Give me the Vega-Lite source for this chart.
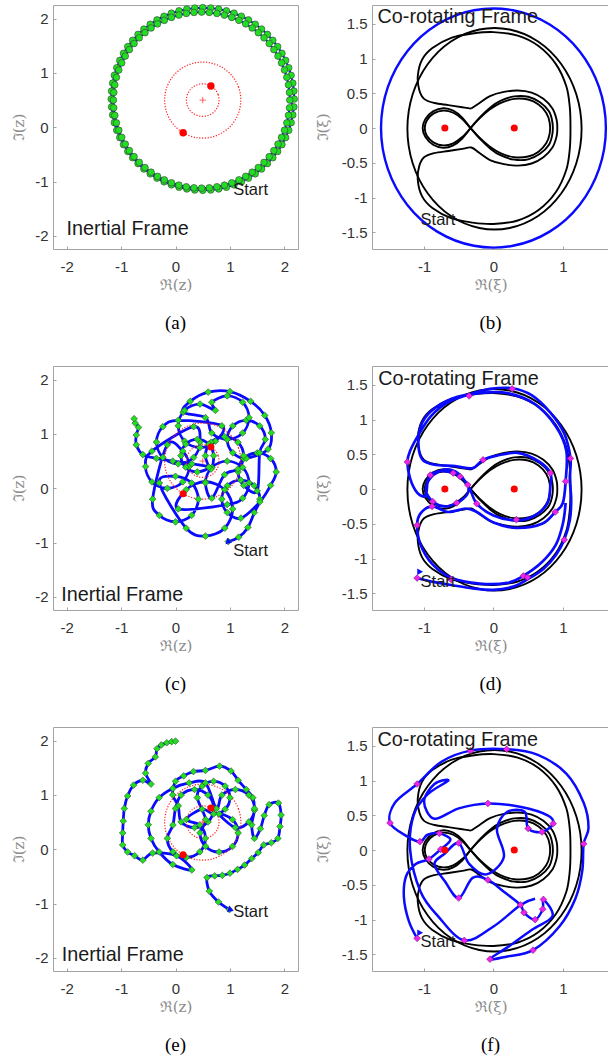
{
  "$schema": "https://vega.github.io/schema/vega-lite/v6.json",
  "background": "white",
  "padding": {"left": 11, "top": 2, "right": 0, "bottom": 0},
  "config": {
    "view": {"stroke": "#a3a3a3", "strokeWidth": 1},
    "axis": {"domain": false, "grid": false, "tickSize": -3, "tickColor": "#a3a3a3", "tickWidth": 1, "labelFont": "Liberation Sans", "labelFontSize": 15, "labelColor": "#333333", "titleFont": "DejaVu Serif", "titleFontSize": 15, "titleFontWeight": "normal", "titleColor": "#8c8c8c"},
    "axisX": {"labelPadding": 13, "titlePadding": 3},
    "axisY": {"labelPadding": 8, "titlePadding": 8},
    "title": {"font": "Liberation Serif", "fontSize": 19, "fontWeight": "normal", "color": "#000000", "orient": "bottom", "offset": 22},
    "text": {"font": "Liberation Sans", "color": "#1a1a1a", "align": "left", "baseline": "middle"}
  },
  "datasets": {
    "ringA": [
      {"x":2.18,"y":0.52},{"x":2.174,"y":0.666},{"x":2.154,"y":0.812},{"x":2.123,"y":0.955},{"x":2.079,"y":1.095},{"x":2.023,"y":1.23},{"x":1.955,"y":1.36},{"x":1.876,"y":1.484},{"x":1.787,"y":1.6},{"x":1.688,"y":1.708},{"x":1.58,"y":1.807},{"x":1.464,"y":1.896},{"x":1.34,"y":1.975},{"x":1.21,"y":2.043},{"x":1.075,"y":2.099},{"x":0.935,"y":2.143},{"x":0.792,"y":2.174},{"x":0.646,"y":2.194},{"x":0.5,"y":2.2},{"x":0.354,"y":2.194},{"x":0.208,"y":2.174},{"x":0.065,"y":2.143},{"x":-0.075,"y":2.099},{"x":-0.21,"y":2.043},{"x":-0.34,"y":1.975},{"x":-0.464,"y":1.896},{"x":-0.58,"y":1.807},{"x":-0.688,"y":1.708},{"x":-0.787,"y":1.6},{"x":-0.876,"y":1.484},{"x":-0.955,"y":1.36},{"x":-1.023,"y":1.23},{"x":-1.079,"y":1.095},{"x":-1.123,"y":0.955},{"x":-1.154,"y":0.812},{"x":-1.174,"y":0.666},{"x":-1.18,"y":0.52},{"x":-1.174,"y":0.374},{"x":-1.154,"y":0.228},{"x":-1.123,"y":0.085},{"x":-1.079,"y":-0.055},{"x":-1.023,"y":-0.19},{"x":-0.955,"y":-0.32},{"x":-0.876,"y":-0.444},{"x":-0.787,"y":-0.56},{"x":-0.688,"y":-0.668},{"x":-0.58,"y":-0.767},{"x":-0.464,"y":-0.856},{"x":-0.34,"y":-0.935},{"x":-0.21,"y":-1.003},{"x":-0.075,"y":-1.059},{"x":0.065,"y":-1.103},{"x":0.208,"y":-1.134},{"x":0.354,"y":-1.154},{"x":0.5,"y":-1.16},{"x":0.646,"y":-1.154},{"x":0.792,"y":-1.134},{"x":0.935,"y":-1.103},{"x":1.075,"y":-1.059},{"x":1.21,"y":-1.003},{"x":1.34,"y":-0.935},{"x":1.464,"y":-0.856},{"x":1.58,"y":-0.767},{"x":1.688,"y":-0.668},{"x":1.787,"y":-0.56},{"x":1.876,"y":-0.444},{"x":1.955,"y":-0.32},{"x":2.023,"y":-0.19},{"x":2.079,"y":-0.055},{"x":2.123,"y":0.085},{"x":2.154,"y":0.228},{"x":2.174,"y":0.374},
      {"x":2.1,"y":0.5},{"x":2.094,"y":0.641},{"x":2.075,"y":0.781},{"x":2.045,"y":0.919},{"x":2.002,"y":1.054},{"x":1.948,"y":1.185},{"x":1.883,"y":1.31},{"x":1.807,"y":1.429},{"x":1.721,"y":1.541},{"x":1.626,"y":1.646},{"x":1.521,"y":1.741},{"x":1.409,"y":1.827},{"x":1.29,"y":1.903},{"x":1.165,"y":1.968},{"x":1.034,"y":2.022},{"x":0.899,"y":2.065},{"x":0.761,"y":2.095},{"x":0.621,"y":2.114},{"x":0.48,"y":2.12},{"x":0.339,"y":2.114},{"x":0.199,"y":2.095},{"x":0.061,"y":2.065},{"x":-0.074,"y":2.022},{"x":-0.205,"y":1.968},{"x":-0.33,"y":1.903},{"x":-0.449,"y":1.827},{"x":-0.561,"y":1.741},{"x":-0.666,"y":1.646},{"x":-0.761,"y":1.541},{"x":-0.847,"y":1.429},{"x":-0.923,"y":1.31},{"x":-0.988,"y":1.185},{"x":-1.042,"y":1.054},{"x":-1.085,"y":0.919},{"x":-1.115,"y":0.781},{"x":-1.134,"y":0.641},{"x":-1.14,"y":0.5},{"x":-1.134,"y":0.359},{"x":-1.115,"y":0.219},{"x":-1.085,"y":0.081},{"x":-1.042,"y":-0.054},{"x":-0.988,"y":-0.185},{"x":-0.923,"y":-0.31},{"x":-0.847,"y":-0.429},{"x":-0.761,"y":-0.541},{"x":-0.666,"y":-0.646},{"x":-0.561,"y":-0.741},{"x":-0.449,"y":-0.827},{"x":-0.33,"y":-0.903},{"x":-0.205,"y":-0.968},{"x":-0.074,"y":-1.022},{"x":0.061,"y":-1.065},{"x":0.199,"y":-1.095},{"x":0.339,"y":-1.114},{"x":0.48,"y":-1.12},{"x":0.621,"y":-1.114},{"x":0.761,"y":-1.095},{"x":0.899,"y":-1.065},{"x":1.034,"y":-1.022},{"x":1.165,"y":-0.968},{"x":1.29,"y":-0.903},{"x":1.409,"y":-0.827},{"x":1.521,"y":-0.741},{"x":1.626,"y":-0.646},{"x":1.721,"y":-0.541},{"x":1.807,"y":-0.429},{"x":1.883,"y":-0.31},{"x":1.948,"y":-0.185},{"x":2.002,"y":-0.054},{"x":2.045,"y":0.081},{"x":2.075,"y":0.219},{"x":2.094,"y":0.359}
    ],
    "orbits": [
      {"c":"o","x":1.2,"y":0.5},{"c":"o","x":1.158,"y":0.739},{"c":"o","x":1.036,"y":0.95},{"c":"o","x":0.85,"y":1.106},{"c":"o","x":0.622,"y":1.189},{"c":"o","x":0.378,"y":1.189},{"c":"o","x":0.15,"y":1.106},{"c":"o","x":-0.036,"y":0.95},{"c":"o","x":-0.158,"y":0.739},{"c":"o","x":-0.2,"y":0.5},{"c":"o","x":-0.158,"y":0.261},{"c":"o","x":-0.036,"y":0.05},{"c":"o","x":0.15,"y":-0.106},{"c":"o","x":0.378,"y":-0.189},{"c":"o","x":0.622,"y":-0.189},{"c":"o","x":0.85,"y":-0.106},{"c":"o","x":1.036,"y":0.05},{"c":"o","x":1.158,"y":0.261},
      {"c":"i","x":0.8,"y":0.5},{"c":"i","x":0.782,"y":0.603},{"c":"i","x":0.73,"y":0.693},{"c":"i","x":0.65,"y":0.76},{"c":"i","x":0.552,"y":0.795},{"c":"i","x":0.448,"y":0.795},{"c":"i","x":0.35,"y":0.76},{"c":"i","x":0.27,"y":0.693},{"c":"i","x":0.218,"y":0.603},{"c":"i","x":0.2,"y":0.5},{"c":"i","x":0.218,"y":0.397},{"c":"i","x":0.27,"y":0.307},{"c":"i","x":0.35,"y":0.24},{"c":"i","x":0.448,"y":0.205},{"c":"i","x":0.552,"y":0.205},{"c":"i","x":0.65,"y":0.24},{"c":"i","x":0.73,"y":0.307},{"c":"i","x":0.782,"y":0.397}
    ],
    "primA": [{"x":0.65,"y":0.76},{"x":0.14,"y":-0.1}],
    "centerA": [{"x":0.5,"y":0.5}],
    "primB": [{"x":-0.7,"y":0},{"x":0.3,"y":0}],
    "orbitB": [
      {"x":1.62,"y":0},{"x":1.522,"y":0.588},{"x":1.241,"y":1.106},{"x":0.81,"y":1.49},{"x":0.281,"y":1.694},{"x":-0.281,"y":1.694},{"x":-0.81,"y":1.49},{"x":-1.241,"y":1.106},{"x":-1.522,"y":0.588},{"x":-1.62,"y":0},{"x":-1.522,"y":-0.588},{"x":-1.241,"y":-1.106},{"x":-0.81,"y":-1.49},{"x":-0.281,"y":-1.694},{"x":0.281,"y":-1.694},{"x":0.81,"y":-1.49},{"x":1.241,"y":-1.106},{"x":1.522,"y":-0.588}
    ],
    "ringK": [
      {"x":1.27,"y":-0.01},{"x":1.194,"y":0.486},{"x":0.976,"y":0.922},{"x":0.643,"y":1.246},{"x":0.233,"y":1.418},{"x":-0.203,"y":1.418},{"x":-0.613,"y":1.246},{"x":-0.946,"y":0.922},{"x":-1.164,"y":0.486},{"x":-1.24,"y":-0.01},{"x":-1.164,"y":-0.506},{"x":-0.946,"y":-0.942},{"x":-0.613,"y":-1.266},{"x":-0.203,"y":-1.438},{"x":0.233,"y":-1.438},{"x":0.643,"y":-1.266},{"x":0.976,"y":-0.942},{"x":1.194,"y":-0.506}
    ],
    "sepB": [
      {"k":"K1","x":-0.33,"y":0},{"k":"K1","x":-0.2,"y":0.14},{"k":"K1","x":-0.05,"y":0.27},{"k":"K1","x":0.1,"y":0.36},{"k":"K1","x":0.3,"y":0.42},{"k":"K1","x":0.5,"y":0.41},{"k":"K1","x":0.65,"y":0.34},{"k":"K1","x":0.76,"y":0.22},{"k":"K1","x":0.81,"y":0.08},{"k":"K1","x":0.81,"y":-0.08},{"k":"K1","x":0.76,"y":-0.22},{"k":"K1","x":0.65,"y":-0.34},{"k":"K1","x":0.5,"y":-0.41},{"k":"K1","x":0.3,"y":-0.42},{"k":"K1","x":0.1,"y":-0.36},{"k":"K1","x":-0.05,"y":-0.27},{"k":"K1","x":-0.2,"y":-0.14},{"k":"K1","x":-0.33,"y":0},{"k":"K1","x":-0.45,"y":0.13},{"k":"K1","x":-0.58,"y":0.22},{"k":"K1","x":-0.72,"y":0.25},{"k":"K1","x":-0.86,"y":0.21},{"k":"K1","x":-0.96,"y":0.11},{"k":"K1","x":-0.99,"y":0},{"k":"K1","x":-0.96,"y":-0.11},{"k":"K1","x":-0.86,"y":-0.21},{"k":"K1","x":-0.72,"y":-0.25},{"k":"K1","x":-0.58,"y":-0.22},{"k":"K1","x":-0.45,"y":-0.13},{"k":"K1","x":-0.33,"y":0},
      {"k":"K2","x":-0.33,"y":0},{"k":"K2","x":-0.19,"y":0.16},{"k":"K2","x":-0.04,"y":0.3},{"k":"K2","x":0.1,"y":0.39},{"k":"K2","x":0.3,"y":0.455},{"k":"K2","x":0.5,"y":0.45},{"k":"K2","x":0.67,"y":0.37},{"k":"K2","x":0.8,"y":0.24},{"k":"K2","x":0.85,"y":0.08},{"k":"K2","x":0.85,"y":-0.08},{"k":"K2","x":0.8,"y":-0.24},{"k":"K2","x":0.67,"y":-0.37},{"k":"K2","x":0.5,"y":-0.45},{"k":"K2","x":0.3,"y":-0.455},{"k":"K2","x":0.1,"y":-0.39},{"k":"K2","x":-0.04,"y":-0.3},{"k":"K2","x":-0.19,"y":-0.16},{"k":"K2","x":-0.33,"y":0},{"k":"K2","x":-0.45,"y":0.15},{"k":"K2","x":-0.58,"y":0.25},{"k":"K2","x":-0.72,"y":0.285},{"k":"K2","x":-0.87,"y":0.24},{"k":"K2","x":-0.98,"y":0.13},{"k":"K2","x":-1.02,"y":0},{"k":"K2","x":-0.98,"y":-0.13},{"k":"K2","x":-0.87,"y":-0.24},{"k":"K2","x":-0.72,"y":-0.285},{"k":"K2","x":-0.58,"y":-0.25},{"k":"K2","x":-0.45,"y":-0.15},{"k":"K2","x":-0.33,"y":0},
      {"k":"K3","x":-0.32,"y":0.28},{"k":"K3","x":-0.45,"y":0.3},{"k":"K3","x":-0.65,"y":0.33},{"k":"K3","x":-0.85,"y":0.36},{"k":"K3","x":-1.0,"y":0.42},{"k":"K3","x":-1.07,"y":0.55},{"k":"K3","x":-1.09,"y":0.75},{"k":"K3","x":-1.03,"y":0.98},{"k":"K3","x":-0.88,"y":1.15},{"k":"K3","x":-0.6,"y":1.3},{"k":"K3","x":-0.3,"y":1.36},{"k":"K3","x":0,"y":1.38},{"k":"K3","x":0.35,"y":1.33},{"k":"K3","x":0.65,"y":1.18},{"k":"K3","x":0.9,"y":0.92},{"k":"K3","x":1.05,"y":0.6},{"k":"K3","x":1.1,"y":0.3},{"k":"K3","x":1.11,"y":0},{"k":"K3","x":1.1,"y":-0.3},{"k":"K3","x":1.05,"y":-0.6},{"k":"K3","x":0.9,"y":-0.92},{"k":"K3","x":0.65,"y":-1.18},{"k":"K3","x":0.35,"y":-1.33},{"k":"K3","x":0,"y":-1.38},{"k":"K3","x":-0.3,"y":-1.36},{"k":"K3","x":-0.6,"y":-1.3},{"k":"K3","x":-0.88,"y":-1.15},{"k":"K3","x":-1.03,"y":-0.98},{"k":"K3","x":-1.09,"y":-0.75},{"k":"K3","x":-1.07,"y":-0.55},{"k":"K3","x":-1.0,"y":-0.42},{"k":"K3","x":-0.85,"y":-0.36},{"k":"K3","x":-0.65,"y":-0.33},{"k":"K3","x":-0.45,"y":-0.3},{"k":"K3","x":-0.32,"y":-0.28},{"k":"K3","x":-0.2,"y":-0.36},{"k":"K3","x":-0.05,"y":-0.46},{"k":"K3","x":0.15,"y":-0.52},{"k":"K3","x":0.35,"y":-0.54},{"k":"K3","x":0.55,"y":-0.51},{"k":"K3","x":0.72,"y":-0.42},{"k":"K3","x":0.85,"y":-0.28},{"k":"K3","x":0.91,"y":-0.12},{"k":"K3","x":0.92,"y":0},{"k":"K3","x":0.91,"y":0.12},{"k":"K3","x":0.85,"y":0.28},{"k":"K3","x":0.72,"y":0.42},{"k":"K3","x":0.55,"y":0.51},{"k":"K3","x":0.35,"y":0.54},{"k":"K3","x":0.15,"y":0.52},{"k":"K3","x":-0.05,"y":0.46},{"k":"K3","x":-0.2,"y":0.36},{"k":"K3","x":-0.32,"y":0.28}
    ],
    "pathC": [
      {"x":0.97,"y":-0.98},{"x":1.16,"y":-0.9},{"x":1.33,"y":-0.72},
      {"x":1.447,"y":-0.447},{"x":1.55,"y":-0.2},{"x":1.447,"y":0.047},{"x":1.2,"y":0.15},{"x":0.953,"y":0.047},{"x":0.85,"y":-0.2},{"x":0.953,"y":-0.447},{"x":1.2,"y":-0.55},
      {"x":1.55,"y":-0.25},
      {"x":1.747,"y":0.053},{"x":1.85,"y":0.3},{"x":1.747,"y":0.547},{"x":1.5,"y":0.65},{"x":1.253,"y":0.547},{"x":1.15,"y":0.3},{"x":1.253,"y":0.053},{"x":1.5,"y":-0.05},
      {"x":1.547,"y":0.653},{"x":1.65,"y":0.9},{"x":1.547,"y":1.147},{"x":1.3,"y":1.25},{"x":1.053,"y":1.147},{"x":0.95,"y":0.9},{"x":1.053,"y":0.653},{"x":1.3,"y":0.55},
      {"x":1.7,"y":0.72},{"x":1.76,"y":1.02},{"x":1.64,"y":1.34},{"x":1.38,"y":1.6},{"x":1.0,"y":1.78},{"x":0.6,"y":1.77},{"x":0.27,"y":1.6},{"x":0.14,"y":1.4},
      {"x":0.55,"y":1.3},{"x":0.667,"y":1.017},{"x":0.95,"y":0.9},{"x":1.233,"y":1.017},{"x":1.35,"y":1.3},{"x":1.233,"y":1.583},{"x":0.95,"y":1.7},{"x":0.667,"y":1.583},
      {"x":0.733,"y":1.433},{"x":0.45,"y":1.55},{"x":0.167,"y":1.433},{"x":0.05,"y":1.15},{"x":0.167,"y":0.867},{"x":0.45,"y":0.75},{"x":0.733,"y":0.867},{"x":0.85,"y":1.15},
      {"x":0.05,"y":1.25},{"x":-0.233,"y":1.133},{"x":-0.35,"y":0.85},{"x":-0.233,"y":0.567},{"x":0.05,"y":0.45},{"x":0.333,"y":0.567},{"x":0.45,"y":0.85},{"x":0.333,"y":1.133},
      {"x":-0.433,"y":0.683},{"x":-0.55,"y":0.4},{"x":-0.433,"y":0.117},{"x":-0.15,"y":0.0},{"x":0.133,"y":0.117},{"x":0.25,"y":0.4},{"x":0.133,"y":0.683},{"x":-0.15,"y":0.8},
      {"x":-0.42,"y":-0.2},{"x":-0.297,"y":-0.497},{"x":0.0,"y":-0.62},{"x":0.297,"y":-0.497},{"x":0.42,"y":-0.2},{"x":0.297,"y":0.097},{"x":0.0,"y":0.22},{"x":-0.297,"y":0.097},
      {"x":0.196,"y":-0.734},{"x":0.55,"y":-0.88},{"x":0.904,"y":-0.734},{"x":1.05,"y":-0.38},{"x":0.904,"y":-0.026},{"x":0.55,"y":0.12},{"x":0.196,"y":-0.026},{"x":0.05,"y":-0.38},
      {"x":0.95,"y":-0.3},{"x":1.233,"y":-0.183},{"x":1.35,"y":0.1},{"x":1.233,"y":0.383},{"x":0.95,"y":0.5},{"x":0.667,"y":0.383},{"x":0.55,"y":0.1},{"x":0.667,"y":-0.183},
      {"x":0.9,"y":0.25},{"x":1.147,"y":0.353},{"x":1.25,"y":0.6},{"x":1.147,"y":0.847},{"x":0.9,"y":0.95},{"x":0.653,"y":0.847},{"x":0.55,"y":0.6},{"x":0.653,"y":0.353},
      {"x":0.7,"y":0.6},{"x":0.612,"y":0.812},{"x":0.4,"y":0.9},{"x":0.188,"y":0.812},{"x":0.1,"y":0.6},{"x":0.188,"y":0.388},{"x":0.4,"y":0.3},{"x":0.612,"y":0.388},
      {"x":0.3,"y":0.45},{"x":-0.05,"y":0.5},{"x":-0.35,"y":0.55},{"x":-0.6,"y":0.62},{"x":-0.72,"y":0.8},{"x":-0.72,"y":0.98},{"x":-0.68,"y":1.12},{"x":-0.74,"y":1.2},{"x":-0.76,"y":1.28}
    ],
    "pathE": [
      {"x":0.99,"y":-1.11},{"x":0.79,"y":-0.97},{"x":0.62,"y":-0.77},{"x":0.58,"y":-0.52},{"x":0.72,"y":-0.49},{"x":0.86,"y":-0.48},{"x":1.0,"y":-0.44},{"x":1.14,"y":-0.37},{"x":1.27,"y":-0.29},{"x":1.4,"y":-0.17},{"x":1.52,"y":-0.06},{"x":1.62,"y":0.08},{"x":1.76,"y":0.12},{"x":1.88,"y":0.2},{"x":1.92,"y":0.42},{"x":1.94,"y":0.63},{"x":1.89,"y":0.85},{"x":1.72,"y":0.82},{"x":1.63,"y":0.62},{"x":1.56,"y":0.38},{"x":1.45,"y":0.2},{"x":1.4,"y":0.45},{"x":1.45,"y":0.72},{"x":1.42,"y":0.95},{"x":1.3,"y":1.1},{"x":1.15,"y":1.27},{"x":1.02,"y":1.44},{"x":0.81,"y":1.53},{"x":0.55,"y":1.45},{"x":0.33,"y":1.43},{"x":0.15,"y":1.35},{"x":0.0,"y":1.25},{"x":-0.05,"y":1.0},{"x":0.05,"y":0.8},
      {"x":0.103,"y":0.503},{"x":0.35,"y":0.4},{"x":0.597,"y":0.503},{"x":0.7,"y":0.75},{"x":0.597,"y":0.997},{"x":0.35,"y":1.1},{"x":0.103,"y":0.997},{"x":0.0,"y":0.75},
      {"x":-0.047,"y":0.447},{"x":-0.15,"y":0.2},{"x":-0.047,"y":-0.047},{"x":0.2,"y":-0.15},{"x":0.447,"y":-0.047},{"x":0.55,"y":0.2},{"x":0.447,"y":0.447},{"x":0.2,"y":0.55},
      {"x":0.488,"y":0.738},{"x":0.7,"y":0.65},{"x":0.912,"y":0.738},{"x":1.0,"y":0.95},{"x":0.912,"y":1.162},{"x":0.7,"y":1.25},{"x":0.488,"y":1.162},{"x":0.4,"y":0.95},
      {"x":0.553,"y":0.547},{"x":0.45,"y":0.3},{"x":0.553,"y":0.053},{"x":0.8,"y":-0.05},{"x":1.047,"y":0.053},{"x":1.15,"y":0.3},{"x":1.047,"y":0.547},{"x":0.8,"y":0.65},
      {"x":1.1,"y":0.4},{"x":1.347,"y":0.503},{"x":1.45,"y":0.75},{"x":1.347,"y":0.997},{"x":1.1,"y":1.1},{"x":0.853,"y":0.997},{"x":0.75,"y":0.75},
      {"x":0.55,"y":1.22},{"x":0.25,"y":1.22},{"x":-0.05,"y":1.12},{"x":-0.3,"y":0.95},{"x":-0.45,"y":0.7},{"x":-0.5,"y":0.45},{"x":-0.45,"y":0.2},{"x":-0.3,"y":-0.05},{"x":-0.05,"y":-0.28},{"x":0.3,"y":-0.38},{"x":0.02,"y":-0.12},{"x":-0.42,"y":-0.07},{"x":-0.6,"y":-0.2},{"x":-0.75,"y":-0.12},{"x":-0.88,"y":-0.05},{"x":-0.97,"y":0.08},{"x":-0.97,"y":0.3},{"x":-0.96,"y":0.52},{"x":-0.94,"y":0.75},{"x":-0.88,"y":0.98},{"x":-0.77,"y":1.18},{"x":-0.6,"y":1.27},{"x":-0.45,"y":1.2},{"x":-0.55,"y":1.4},{"x":-0.5,"y":1.58},{"x":-0.37,"y":1.7},{"x":-0.34,"y":1.85},{"x":-0.26,"y":1.92},{"x":-0.16,"y":1.96},{"x":-0.07,"y":1.98},{"x":0.0,"y":1.99}
    ],
    "pathD": [
      {"x":-1.1,"y":-1.28},{"x":-0.85,"y":-1.34},{"x":-0.61,"y":-1.38},{"x":-0.3,"y":-1.43},{"x":0.0,"y":-1.45},{"x":0.3,"y":-1.4},{"x":0.49,"y":-1.3},{"x":0.72,"y":-1.15},{"x":0.9,"y":-0.95},{"x":1.02,"y":-0.73},{"x":1.1,"y":-0.45},{"x":1.12,"y":-0.15},{"x":1.1,"y":0.15},{"x":1.11,"y":0.44},{"x":1.02,"y":0.8},{"x":0.82,"y":1.1},{"x":0.55,"y":1.35},{"x":0.27,"y":1.45},{"x":-0.05,"y":1.44},{"x":-0.35,"y":1.36},{"x":-0.65,"y":1.25},{"x":-0.9,"y":1.05},{"x":-1.08,"y":0.78},{"x":-1.2,"y":0.55},{"x":-1.24,"y":0.39},{"x":-1.2,"y":0.15},{"x":-1.1,"y":-0.05},{"x":-0.98,"y":-0.1},{"x":-0.95,"y":0.1},{"x":-0.91,"y":0.2},{"x":-0.75,"y":0.26},{"x":-0.58,"y":0.23},{"x":-0.48,"y":0.18},{"x":-0.37,"y":0.06},{"x":-0.38,"y":-0.08},{"x":-0.53,"y":-0.2},{"x":-0.7,"y":-0.25},{"x":-0.875,"y":-0.18},{"x":-0.97,"y":-0.02},{"x":-0.9,"y":0.17},{"x":-0.7,"y":0.28},{"x":-0.5,"y":0.22},{"x":-0.35,"y":0.02},{"x":-0.24,"y":-0.21},{"x":0.0,"y":-0.38},{"x":0.33,"y":-0.45},{"x":0.6,"y":-0.38},{"x":0.78,"y":-0.2},{"x":0.82,"y":0.05},{"x":0.82,"y":0.23},{"x":0.65,"y":0.4},{"x":0.35,"y":0.52},{"x":0.05,"y":0.48},{"x":-0.15,"y":0.42},{"x":-0.3,"y":0.3},{"x":-0.55,"y":0.33},{"x":-0.85,"y":0.35},{"x":-1.02,"y":0.42},{"x":-1.08,"y":0.62},{"x":-1.05,"y":0.9},{"x":-0.9,"y":1.12},{"x":-0.6,"y":1.3},{"x":-0.2,"y":1.38},{"x":0.2,"y":1.38},{"x":0.6,"y":1.22},{"x":0.9,"y":0.9},{"x":1.05,"y":0.55},{"x":1.04,"y":0.11},{"x":1.0,"y":-0.2},{"x":0.89,"y":-0.33},{"x":0.7,"y":-0.5},{"x":0.33,"y":-0.56},{"x":0.0,"y":-0.48},{"x":-0.24,"y":-0.33},{"x":-0.4,"y":-0.28},{"x":-0.65,"y":-0.33},{"x":-0.885,"y":-0.25},{"x":-1.05,"y":-0.35},{"x":-1.1,"y":-0.52},{"x":-1.05,"y":-0.8},{"x":-0.88,"y":-1.08},{"x":-0.6,"y":-1.28},{"x":-0.2,"y":-1.36},{"x":0.2,"y":-1.35},{"x":0.43,"y":-1.25},{"x":0.7,"y":-1.05},{"x":0.9,"y":-0.8},{"x":1.0,"y":-0.5},{"x":1.04,"y":-0.2}
    ],
    "markD": [
      {"x":0.27,"y":1.44},{"x":-0.35,"y":1.34},{"x":-1.24,"y":0.39},{"x":1.11,"y":0.44},{"x":-0.15,"y":0.42},{"x":-0.91,"y":0.2},{"x":-0.58,"y":0.23},{"x":-0.48,"y":0.18},{"x":-0.37,"y":0.06},{"x":0.82,"y":0.23},{"x":1.04,"y":0.11},{"x":-0.875,"y":-0.18},{"x":-0.885,"y":-0.25},{"x":-0.53,"y":-0.2},{"x":-0.24,"y":-0.21},{"x":0.89,"y":-0.33},{"x":0.33,"y":-0.44},{"x":-1.1,"y":-0.52},{"x":1.02,"y":-0.73},{"x":0.43,"y":-1.25},{"x":0.49,"y":-1.27},{"x":-1.1,"y":-1.28},{"x":-0.61,"y":-1.3}
    ],
    "pathF": [
      {"x":-1.1,"y":-1.27},{"x":-1.22,"y":-1.02},{"x":-1.29,"y":-0.68},{"x":-1.26,"y":-0.38},{"x":-1.12,"y":-0.2},{"x":-0.93,"y":-0.13},{"x":-0.76,"y":0.01},{"x":-0.62,"y":0.15},{"x":-0.78,"y":0.24},{"x":-0.95,"y":0.22},{"x":-1.06,"y":0.12},{"x":-1.25,"y":0.2},{"x":-1.49,"y":0.39},{"x":-1.42,"y":0.68},{"x":-1.1,"y":0.95},{"x":-0.75,"y":1.27},{"x":-0.33,"y":1.43},{"x":0.19,"y":1.45},{"x":0.64,"y":1.37},{"x":1.05,"y":1.1},{"x":1.3,"y":0.68},{"x":1.37,"y":0.32},{"x":1.3,"y":0.09},{"x":1.28,"y":-0.3},{"x":1.18,"y":-0.7},{"x":0.95,"y":-1.1},{"x":0.57,"y":-1.44},{"x":0.2,"y":-1.53},{"x":-0.05,"y":-1.57},{"x":0.2,"y":-1.4},{"x":0.55,"y":-1.15},{"x":0.85,"y":-0.95},{"x":0.72,"y":-0.71},{"x":0.71,"y":-0.85},{"x":0.6,"y":-1.0},{"x":0.44,"y":-0.9},{"x":0.39,"y":-0.79},{"x":0.15,"y":-0.6},{"x":-0.08,"y":-0.43},{"x":-0.3,"y":-0.4},{"x":-0.5,"y":-0.69},{"x":-0.7,"y":-0.45},{"x":-0.85,"y":-0.2},{"x":-0.7,"y":-0.05},{"x":-0.5,"y":0.1},{"x":-0.35,"y":-0.2},{"x":-0.1,"y":-0.35},{"x":0.15,"y":-0.1},{"x":0.05,"y":0.3},{"x":0.2,"y":0.55},{"x":0.45,"y":0.55},{"x":0.5,"y":0.31},{"x":0.7,"y":0.26},{"x":0.86,"y":0.38},{"x":0.78,"y":0.5},{"x":0.4,"y":0.62},{"x":-0.08,"y":0.67},{"x":-0.5,"y":0.6},{"x":-0.85,"y":0.45},{"x":-1.0,"y":0.7},{"x":-0.85,"y":0.95},{"x":-0.65,"y":1.0},{"x":-0.95,"y":0.8},{"x":-1.15,"y":0.5},{"x":-1.2,"y":0.0},{"x":-1.05,"y":-0.6},{"x":-0.8,"y":-0.95},{"x":-0.42,"y":-1.3},{"x":0.0,"y":-1.1},{"x":0.39,"y":-0.79},{"x":0.6,"y":-0.7}
    ],
    "markF": [
      {"x":-0.33,"y":1.43},{"x":0.19,"y":1.45},{"x":-1.1,"y":0.95},{"x":-1.49,"y":0.39},{"x":-0.08,"y":0.67},{"x":-1.06,"y":0.12},{"x":-0.78,"y":0.24},{"x":-0.5,"y":0.1},{"x":-0.76,"y":0.01},{"x":-0.93,"y":-0.13},{"x":0.5,"y":0.31},{"x":0.7,"y":0.26},{"x":0.86,"y":0.38},{"x":1.3,"y":0.09},{"x":-0.08,"y":-0.43},{"x":-0.5,"y":-0.69},{"x":0.39,"y":-0.79},{"x":0.72,"y":-0.71},{"x":0.44,"y":-0.9},{"x":0.71,"y":-0.85},{"x":0.6,"y":-1.0},{"x":-1.1,"y":-1.27},{"x":-0.42,"y":-1.3},{"x":-0.05,"y":-1.57},{"x":0.57,"y":-1.44}
    ],
    "arrows": [
      {"p":"c","x":0.97,"y":-0.98},{"p":"d","x":-1.07,"y":-1.19},{"p":"e","x":1.0,"y":-1.11},{"p":"f","x":-1.07,"y":-1.19}
    ],
    "labels": [
      {"p":"a","t":"Inertial Frame","x":-2.0,"y":-1.88},{"p":"a","t":"Start","x":1.06,"y":-1.15},
      {"p":"b","t":"Co-rotating Frame","x":-1.67,"y":1.6},{"p":"b","t":"Start","x":-1.05,"y":-1.33},
      {"p":"c","t":"Inertial Frame","x":-2.1,"y":-1.97},{"p":"c","t":"Start","x":1.06,"y":-1.16},
      {"p":"d","t":"Co-rotating Frame","x":-1.66,"y":1.59},{"p":"d","t":"Start","x":-1.05,"y":-1.34},
      {"p":"e","t":"Inertial Frame","x":-2.09,"y":-1.94},{"p":"e","t":"Start","x":1.06,"y":-1.16},
      {"p":"f","t":"Co-rotating Frame","x":-1.67,"y":1.59},{"p":"f","t":"Start","x":-1.05,"y":-1.33}
    ]
  },
  "columns": 2,
  "spacing": {"row": 117, "column": 74},
  "bounds": "flush",
  "concat": [
    {
      "width": 245, "height": 244,
      "title": {"text": "(a)"},
      "encoding": {
        "x": {"field": "x", "type": "quantitative", "scale": {"domain": [-2.25, 2.25], "nice": false, "zero": false}, "axis": {"values": [-2, -1, 0, 1, 2], "title": "ℜ(z)", "labelExpr": "'' + datum.value"}},
        "y": {"field": "y", "type": "quantitative", "scale": {"domain": [-2.24, 2.25], "nice": false, "zero": false}, "axis": {"values": [-2, -1, 0, 1, 2], "title": "ℑ(z)", "labelExpr": "'' + datum.value"}}
      },
      "layer": [
        {"data": {"name": "ringA"}, "mark": {"type": "line", "stroke": "#0a0aff", "strokeWidth": 2, "clip": true}, "encoding": {"order": {"value": null}}},
        {"data": {"name": "ringA"}, "mark": {"type": "point", "shape": "circle", "filled": true, "fill": "#22dd22", "stroke": "#3a3a3a", "strokeWidth": 0.6, "size": 45, "opacity": 1}},
        {"data": {"name": "orbits"}, "mark": {"type": "line", "stroke": "#ff2020", "strokeWidth": 1.2, "strokeDash": [1.2, 1.6], "interpolate": "cardinal-closed"}, "encoding": {"detail": {"field": "c"}, "order": {"value": null}}},
        {"data": {"name": "primA"}, "mark": {"type": "point", "shape": "circle", "filled": true, "color": "#ff0000", "size": 55, "opacity": 1}},
        {"data": {"name": "centerA"}, "mark": {"type": "point", "shape": "M-1,0H1M0,-1V1", "filled": false, "stroke": "#ff4040", "strokeWidth": 0.8, "size": 40, "opacity": 1}},
        {"data": {"name": "labels"}, "transform": [{"filter": "datum.p == 'a' && datum.t != 'Start'"}], "mark": {"type": "text", "fontSize": 19.8}, "encoding": {"text": {"field": "t"}}},
        {"data": {"name": "labels"}, "transform": [{"filter": "datum.p == 'a' && datum.t == 'Start'"}], "mark": {"type": "text", "fontSize": 16.5}, "encoding": {"text": {"field": "t"}}}
      ]
    },
    {
      "width": 237, "height": 244,
      "title": {"text": "(b)"},
      "encoding": {
        "x": {"field": "x", "type": "quantitative", "scale": {"domain": [-1.75, 1.665], "nice": false, "zero": false}, "axis": {"values": [-1, 0, 1], "title": "ℜ(ξ)", "labelExpr": "'' + datum.value"}},
        "y": {"field": "y", "type": "quantitative", "scale": {"domain": [-1.74, 1.77], "nice": false, "zero": false}, "axis": {"values": [-1.5, -1, -0.5, 0, 0.5, 1, 1.5], "title": "ℑ(ξ)", "titlePadding": 11, "labelExpr": "'' + datum.value"}}
      },
      "layer": [
        {"data": {"name": "orbitB"}, "mark": {"type": "line", "stroke": "#0a0aff", "strokeWidth": 2.4, "interpolate": "cardinal-closed", "clip": true}, "encoding": {"order": {"value": null}}},
        {"data": {"name": "sepB"}, "mark": {"type": "line", "stroke": "#000000", "strokeWidth": 1.9, "interpolate": "cardinal"}, "encoding": {"detail": {"field": "k"}, "order": {"value": null}}},
        {"data": {"name": "ringK"}, "mark": {"type": "line", "stroke": "#000000", "strokeWidth": 1.9, "interpolate": "cardinal-closed"}, "encoding": {"order": {"value": null}}},
        {"data": {"name": "primB"}, "mark": {"type": "point", "shape": "circle", "filled": true, "color": "#ff0000", "size": 50, "opacity": 1}},
        {"data": {"name": "labels"}, "transform": [{"filter": "datum.p == 'b' && datum.t != 'Start'"}], "mark": {"type": "text", "fontSize": 19.8}, "encoding": {"text": {"field": "t"}}},
        {"data": {"name": "labels"}, "transform": [{"filter": "datum.p == 'b' && datum.t == 'Start'"}], "mark": {"type": "text", "fontSize": 16.5}, "encoding": {"text": {"field": "t"}}}
      ]
    },
    {
      "width": 245, "height": 244,
      "title": {"text": "(c)"},
      "encoding": {
        "x": {"field": "x", "type": "quantitative", "scale": {"domain": [-2.25, 2.25], "nice": false, "zero": false}, "axis": {"values": [-2, -1, 0, 1, 2], "title": "ℜ(z)", "labelExpr": "'' + datum.value"}},
        "y": {"field": "y", "type": "quantitative", "scale": {"domain": [-2.24, 2.25], "nice": false, "zero": false}, "axis": {"values": [-2, -1, 0, 1, 2], "title": "ℑ(z)", "labelExpr": "'' + datum.value"}}
      },
      "layer": [
        {"data": {"name": "pathC"}, "mark": {"type": "line", "stroke": "#0a0aff", "strokeWidth": 2.8, "interpolate": "cardinal", "clip": true}, "encoding": {"order": {"value": null}}},
        {"data": {"name": "orbits"}, "mark": {"type": "line", "stroke": "#ff2020", "strokeWidth": 1.2, "strokeDash": [1.2, 1.6], "interpolate": "cardinal-closed"}, "encoding": {"detail": {"field": "c"}, "order": {"value": null}}},
        {"data": {"name": "pathC"}, "mark": {"type": "point", "shape": "diamond", "filled": true, "fill": "#22dd22", "stroke": "#2f4f2f", "strokeWidth": 0.6, "size": 45, "opacity": 1}},
        {"data": {"name": "primA"}, "mark": {"type": "point", "shape": "circle", "filled": true, "color": "#ff0000", "size": 50, "opacity": 1}},
        {"data": {"name": "centerA"}, "mark": {"type": "point", "shape": "M-1,0H1M0,-1V1", "filled": false, "stroke": "#ff4040", "strokeWidth": 0.8, "size": 40, "opacity": 1}},
        {"data": {"name": "arrows"}, "transform": [{"filter": "datum.p == 'c'"}], "mark": {"type": "point", "shape": "triangle", "filled": true, "color": "#0a0aff", "size": 45, "angle": 225, "opacity": 1}},
        {"data": {"name": "labels"}, "transform": [{"filter": "datum.p == 'c' && datum.t != 'Start'"}], "mark": {"type": "text", "fontSize": 19.8}, "encoding": {"text": {"field": "t"}}},
        {"data": {"name": "labels"}, "transform": [{"filter": "datum.p == 'c' && datum.t == 'Start'"}], "mark": {"type": "text", "fontSize": 16.5}, "encoding": {"text": {"field": "t"}}}
      ]
    },
    {
      "width": 237, "height": 244,
      "title": {"text": "(d)"},
      "encoding": {
        "x": {"field": "x", "type": "quantitative", "scale": {"domain": [-1.75, 1.665], "nice": false, "zero": false}, "axis": {"values": [-1, 0, 1], "title": "ℜ(ξ)", "labelExpr": "'' + datum.value"}},
        "y": {"field": "y", "type": "quantitative", "scale": {"domain": [-1.74, 1.77], "nice": false, "zero": false}, "axis": {"values": [-1.5, -1, -0.5, 0, 0.5, 1, 1.5], "title": "ℑ(ξ)", "titlePadding": 11, "labelExpr": "'' + datum.value"}}
      },
      "layer": [
        {"data": {"name": "sepB"}, "mark": {"type": "line", "stroke": "#000000", "strokeWidth": 1.9, "interpolate": "cardinal"}, "encoding": {"detail": {"field": "k"}, "order": {"value": null}}},
        {"data": {"name": "ringK"}, "mark": {"type": "line", "stroke": "#000000", "strokeWidth": 1.9, "interpolate": "cardinal-closed"}, "encoding": {"order": {"value": null}}},
        {"data": {"name": "pathD"}, "mark": {"type": "line", "stroke": "#0a0aff", "strokeWidth": 2.7, "interpolate": "cardinal", "clip": true}, "encoding": {"order": {"value": null}}},
        {"data": {"name": "markD"}, "mark": {"type": "point", "shape": "diamond", "filled": true, "fill": "#ee22ee", "stroke": "#7a1a7a", "strokeWidth": 0.6, "size": 45, "opacity": 1}},
        {"data": {"name": "primB"}, "mark": {"type": "point", "shape": "circle", "filled": true, "color": "#ff0000", "size": 50, "opacity": 1}},
        {"data": {"name": "arrows"}, "transform": [{"filter": "datum.p == 'd'"}], "mark": {"type": "point", "shape": "triangle", "filled": true, "color": "#0a0aff", "size": 45, "angle": 330, "opacity": 1}},
        {"data": {"name": "labels"}, "transform": [{"filter": "datum.p == 'd' && datum.t != 'Start'"}], "mark": {"type": "text", "fontSize": 19.8}, "encoding": {"text": {"field": "t"}}},
        {"data": {"name": "labels"}, "transform": [{"filter": "datum.p == 'd' && datum.t == 'Start'"}], "mark": {"type": "text", "fontSize": 16.5}, "encoding": {"text": {"field": "t"}}}
      ]
    },
    {
      "width": 245, "height": 244,
      "title": {"text": "(e)"},
      "encoding": {
        "x": {"field": "x", "type": "quantitative", "scale": {"domain": [-2.25, 2.25], "nice": false, "zero": false}, "axis": {"values": [-2, -1, 0, 1, 2], "title": "ℜ(z)", "labelExpr": "'' + datum.value"}},
        "y": {"field": "y", "type": "quantitative", "scale": {"domain": [-2.24, 2.25], "nice": false, "zero": false}, "axis": {"values": [-2, -1, 0, 1, 2], "title": "ℑ(z)", "labelExpr": "'' + datum.value"}}
      },
      "layer": [
        {"data": {"name": "pathE"}, "mark": {"type": "line", "stroke": "#0a0aff", "strokeWidth": 2.8, "interpolate": "cardinal", "clip": true}, "encoding": {"order": {"value": null}}},
        {"data": {"name": "orbits"}, "mark": {"type": "line", "stroke": "#ff2020", "strokeWidth": 1.2, "strokeDash": [1.2, 1.6], "interpolate": "cardinal-closed"}, "encoding": {"detail": {"field": "c"}, "order": {"value": null}}},
        {"data": {"name": "pathE"}, "mark": {"type": "point", "shape": "diamond", "filled": true, "fill": "#22dd22", "stroke": "#2f4f2f", "strokeWidth": 0.6, "size": 45, "opacity": 1}},
        {"data": {"name": "primA"}, "mark": {"type": "point", "shape": "circle", "filled": true, "color": "#ff0000", "size": 50, "opacity": 1}},
        {"data": {"name": "centerA"}, "mark": {"type": "point", "shape": "M-1,0H1M0,-1V1", "filled": false, "stroke": "#ff4040", "strokeWidth": 0.8, "size": 40, "opacity": 1}},
        {"data": {"name": "arrows"}, "transform": [{"filter": "datum.p == 'e'"}], "mark": {"type": "point", "shape": "triangle", "filled": true, "color": "#0a0aff", "size": 45, "angle": 110, "opacity": 1}},
        {"data": {"name": "labels"}, "transform": [{"filter": "datum.p == 'e' && datum.t != 'Start'"}], "mark": {"type": "text", "fontSize": 19.8}, "encoding": {"text": {"field": "t"}}},
        {"data": {"name": "labels"}, "transform": [{"filter": "datum.p == 'e' && datum.t == 'Start'"}], "mark": {"type": "text", "fontSize": 16.5}, "encoding": {"text": {"field": "t"}}}
      ]
    },
    {
      "width": 237, "height": 244,
      "title": {"text": "(f)"},
      "encoding": {
        "x": {"field": "x", "type": "quantitative", "scale": {"domain": [-1.75, 1.665], "nice": false, "zero": false}, "axis": {"values": [-1, 0, 1], "title": "ℜ(ξ)", "labelExpr": "'' + datum.value"}},
        "y": {"field": "y", "type": "quantitative", "scale": {"domain": [-1.74, 1.77], "nice": false, "zero": false}, "axis": {"values": [-1.5, -1, -0.5, 0, 0.5, 1, 1.5], "title": "ℑ(ξ)", "titlePadding": 11, "labelExpr": "'' + datum.value"}}
      },
      "layer": [
        {"data": {"name": "sepB"}, "mark": {"type": "line", "stroke": "#000000", "strokeWidth": 1.9, "interpolate": "cardinal"}, "encoding": {"detail": {"field": "k"}, "order": {"value": null}}},
        {"data": {"name": "ringK"}, "mark": {"type": "line", "stroke": "#000000", "strokeWidth": 1.9, "interpolate": "cardinal-closed"}, "encoding": {"order": {"value": null}}},
        {"data": {"name": "pathF"}, "mark": {"type": "line", "stroke": "#0a0aff", "strokeWidth": 2.5, "interpolate": "cardinal", "clip": true}, "encoding": {"order": {"value": null}}},
        {"data": {"name": "markF"}, "mark": {"type": "point", "shape": "diamond", "filled": true, "fill": "#ee22ee", "stroke": "#7a1a7a", "strokeWidth": 0.6, "size": 45, "opacity": 1}},
        {"data": {"name": "primB"}, "mark": {"type": "point", "shape": "circle", "filled": true, "color": "#ff0000", "size": 50, "opacity": 1}},
        {"data": {"name": "arrows"}, "transform": [{"filter": "datum.p == 'f'"}], "mark": {"type": "point", "shape": "triangle", "filled": true, "color": "#0a0aff", "size": 45, "angle": 330, "opacity": 1}},
        {"data": {"name": "labels"}, "transform": [{"filter": "datum.p == 'f' && datum.t != 'Start'"}], "mark": {"type": "text", "fontSize": 19.8}, "encoding": {"text": {"field": "t"}}},
        {"data": {"name": "labels"}, "transform": [{"filter": "datum.p == 'f' && datum.t == 'Start'"}], "mark": {"type": "text", "fontSize": 16.5}, "encoding": {"text": {"field": "t"}}}
      ]
    }
  ]
}
